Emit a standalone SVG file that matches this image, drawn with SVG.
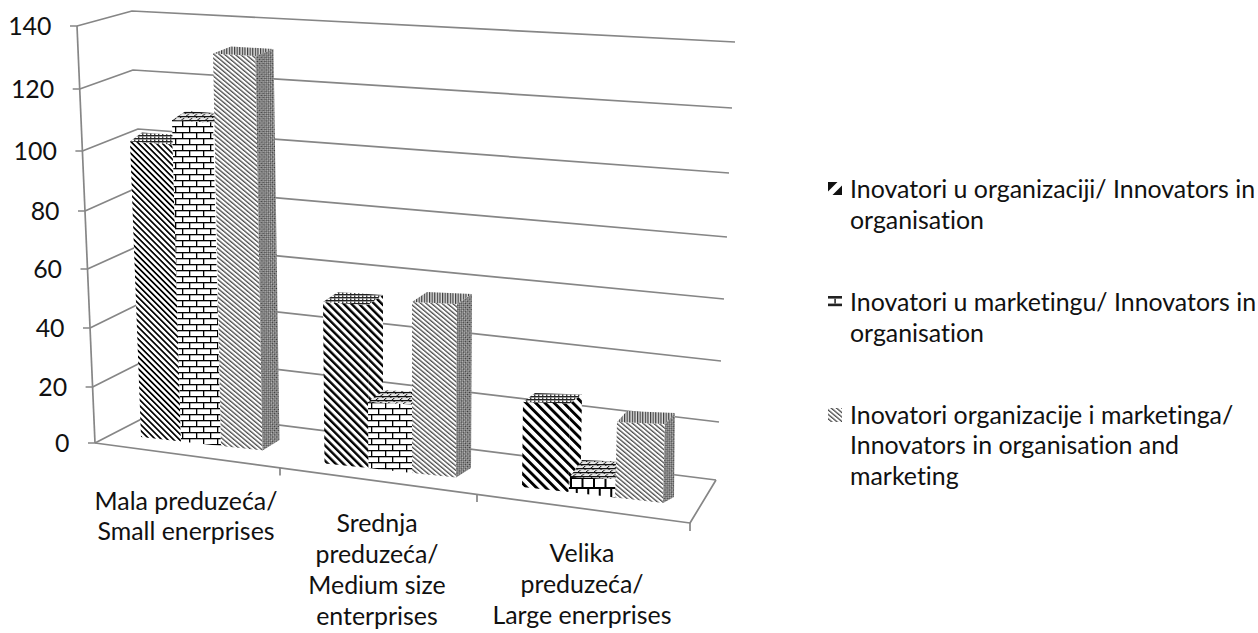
<svg xmlns="http://www.w3.org/2000/svg" width="1258" height="633" viewBox="0 0 1258 633">
<style>
.grid{stroke:#868686;stroke-width:1.7;fill:none;stroke-linejoin:round}
.txt{font-family:Lato,"Liberation Sans",sans-serif;font-size:24.9px;font-weight:400;fill:#111;font-variant-ligatures:none;font-feature-settings:"liga" 0}
.ax{text-anchor:end}
.cat{text-anchor:middle}
</style>
<defs>
<pattern id="s1a" patternUnits="userSpaceOnUse" width="4.2" height="10" patternTransform="rotate(-45)"><rect width="4.2" height="10" fill="#fff"/><rect width="1.7" height="10" fill="#000"/></pattern>
<pattern id="s1b" patternUnits="userSpaceOnUse" width="5.4" height="10" patternTransform="rotate(-45)"><rect width="5.4" height="10" fill="#fff"/><rect width="2.4" height="10" fill="#000"/></pattern>
<pattern id="s1c" patternUnits="userSpaceOnUse" width="6.6" height="10" patternTransform="rotate(-45)"><rect width="6.6" height="10" fill="#fff"/><rect width="2.9" height="10" fill="#000"/></pattern>
<pattern id="s1top" patternUnits="userSpaceOnUse" width="4" height="3"><rect width="4" height="3" fill="#fff"/><rect width="4" height="1.4" fill="#222"/><rect x="2" y="1.4" width="1.4" height="1.6" fill="#444"/></pattern>
<pattern id="s2" patternUnits="userSpaceOnUse" width="14" height="12"><rect width="14" height="12" fill="#fff"/><rect width="14" height="1.3" fill="#000"/><rect y="6" width="14" height="1.3" fill="#000"/><rect width="1.3" height="6" fill="#000"/><rect x="7" y="6" width="1.3" height="6" fill="#000"/></pattern>
<pattern id="s2big" patternUnits="userSpaceOnUse" width="23" height="20" x="570" y="477"><rect width="23" height="20" fill="#fff"/><rect width="23" height="2" fill="#000"/><rect y="10" width="23" height="2" fill="#000"/><rect x="0" width="2" height="10" fill="#000"/><rect x="11.5" width="2" height="10" fill="#000"/><rect x="5.75" y="10" width="2" height="10" fill="#000"/><rect x="17.25" y="10" width="2" height="10" fill="#000"/></pattern>
<pattern id="s2top" patternUnits="userSpaceOnUse" width="8" height="4" patternTransform="skewX(-50)"><rect width="8" height="4" fill="#e8e8e8"/><rect width="8" height="1.3" fill="#111"/><rect width="1.3" height="2" fill="#111"/><rect x="4" y="2" width="1.3" height="2" fill="#111"/></pattern>
<pattern id="s3" patternUnits="userSpaceOnUse" width="3.4" height="10" patternTransform="rotate(-50)"><rect width="3.4" height="10" fill="#fff"/><rect width="1.3" height="10" fill="#4a4a4a"/></pattern>
<pattern id="s3side" patternUnits="userSpaceOnUse" width="3" height="3" patternTransform="rotate(-45)"><rect width="3" height="3" fill="#bdbdbd"/><rect width="1.5" height="1.5" fill="#333"/><rect x="1.5" y="1.5" width="1.5" height="1.5" fill="#555"/></pattern>
<pattern id="s3top" patternUnits="userSpaceOnUse" width="2.6" height="10"><rect width="2.6" height="10" fill="#e0e0e0"/><rect width="1.2" height="10" fill="#3a3a3a"/></pattern>
</defs>
<rect width="1258" height="633" fill="#fff"/>

<g id="walls">
<polyline class="grid" points="77,26 132,11 735,42"/>
<polyline class="grid" points="79.7,89 133,70 732,108"/>
<polyline class="grid" points="82.4,151 138,129 729,173"/>
<polyline class="grid" points="85,211 141,186 727,237"/>
<polyline class="grid" points="87.5,269 145,243 724,299"/>
<polyline class="grid" points="90,328 151,298 721,361"/>
<polyline class="grid" points="92.6,387 156,355 719,422"/>
<polyline class="grid" points="95,443 159,410 716,480"/>
</g>

<g id="floor">
<polyline class="grid" points="95,443 690,523 716,480"/>
<path class="grid" d="M280,468 V475.5 M477,494.5 V502 M690,523 V531"/>
</g>

<g id="value-axis">
<line class="grid" x1="77" y1="26" x2="95" y2="443"/>
<path class="grid" d="M70,26 H77 M72.7,89 H79.7 M75.4,151 H82.4 M78,211 H85 M80.5,269 H87.5 M83,328 H90 M85.6,387 H92.6 M88,443 H95"/>
<text class="txt ax" x="51.5" y="34.5">140</text>
<text class="txt ax" x="54.2" y="97.5">120</text>
<text class="txt ax" x="56.9" y="159.5">100</text>
<text class="txt ax" x="59.5" y="219.5">80</text>
<text class="txt ax" x="62" y="277.5">60</text>
<text class="txt ax" x="64.5" y="336.5">40</text>
<text class="txt ax" x="67.1" y="395.5">20</text>
<text class="txt ax" x="69.5" y="451.5">0</text>
</g>

<g id="cluster-mala">
<g id="mala-s1">
<polygon points="130,141.5 172.5,144.5 181,441.5 141,437" fill="url(#s1a)"/>
<polygon points="130,141.5 172.5,144.5 184.5,135.5 142,132.5" fill="url(#s1top)"/>
</g>
<g id="mala-s2">
<polygon points="172,120 213,123 221,446 181,441.5" fill="url(#s2)"/>
<polygon points="172,120 213,123 227,114 186,111" fill="url(#s2top)"/>
</g>
<g id="mala-s3">
<polygon points="213,53.5 255.5,56 262.5,450.5 221,446" fill="url(#s3)"/>
<polygon points="213,53.5 255.5,56 273.5,49 231,46.5" fill="url(#s3top)"/>
<polygon points="255.5,56 273.5,49 279.5,440 262.5,450.5" fill="url(#s3side)"/>
</g>
</g>

<g id="cluster-srednja">
<g id="srednja-s1">
<polygon points="323,302 368,305 368.5,468 324.5,463.5" fill="url(#s1b)"/>
<polygon points="323,302 368,305 383,295 338,292" fill="url(#s1top)"/>
<polygon points="368,305 383,295 383,458 368.5,468" fill="url(#s1b)"/>
</g>
<g id="srednja-s2">
<polygon points="368,402 412,404.5 412,473 368.5,468" fill="url(#s2)"/>
<polygon points="368,402 412,404.5 427,392.5 383,390" fill="url(#s2top)"/>
</g>
<g id="srednja-s3">
<polygon points="412,302 457,304 456,477.5 412,473" fill="url(#s3)"/>
<polygon points="412,302 457,304 472,294 427,292" fill="url(#s3top)"/>
<polygon points="457,304 472,294 471,468 456,477.5" fill="url(#s3side)"/>
</g>
</g>

<g id="cluster-velika">
<g id="velika-s1">
<polygon points="523,402 570,403.5 568.5,492 522,487" fill="url(#s1c)"/>
<polygon points="523,402 570,403.5 582,394.5 535,393" fill="url(#s1top)"/>
<polygon points="570,403.5 582,394.5 580.5,483 568.5,492" fill="url(#s1c)"/>
</g>
<g id="velika-s2">
<polygon points="570,477 616,479 615,497.5 568.5,492" fill="url(#s2big)"/>
<polygon points="570,477 616,479 628,462 582,460" fill="url(#s2top)"/>
</g>
<g id="velika-s3">
<polygon points="617,422 665,424 663,503 615,497.5" fill="url(#s3)"/>
<polygon points="617,422 665,424 675,413 627,411" fill="url(#s3top)"/>
<polygon points="665,424 675,413 674,497 663,503" fill="url(#s3side)"/>
</g>
</g>

<g id="category-labels">
<text class="txt cat" x="186" y="510">Mala preduzeća/</text>
<text class="txt cat" x="186" y="540">Small enerprises</text>
<text class="txt cat" x="377" y="532">Srednja</text>
<text class="txt cat" x="377" y="563">preduzeća/</text>
<text class="txt cat" x="377" y="594">Medium size</text>
<text class="txt cat" x="377" y="625">enterprises</text>
<text class="txt cat" x="582" y="562">Velika</text>
<text class="txt cat" x="582" y="593">preduzeća/</text>
<text class="txt cat" x="582" y="624">Large enerprises</text>
</g>

<g id="legend">
<g id="legend-1">
<rect x="828" y="182" width="14" height="13" fill="#fff"/>
<polygon points="828,182 837.5,182 828,191.5" fill="#111"/>
<polygon points="842,185.5 842,195 832.5,195" fill="#111"/>
<text class="txt" x="850" y="198">Inovatori u organizaciji/ Innovators in</text>
<text class="txt" x="850" y="228.5">organisation</text>
</g>
<g id="legend-2">
<rect x="828" y="296" width="14" height="2.6" fill="#222"/>
<rect x="834.2" y="298.6" width="1.8" height="5" fill="#444"/>
<rect x="828" y="303.6" width="14" height="2.6" fill="#222"/>
<text class="txt" x="850" y="311">Inovatori u marketingu/ Innovators in</text>
<text class="txt" x="850" y="341.5">organisation</text>
</g>
<g id="legend-3">
<rect x="828" y="408" width="14" height="14" fill="url(#s3)"/>
<text class="txt" x="850" y="423.5">Inovatori organizacije i marketinga/</text>
<text class="txt" x="850" y="454">Innovators in organisation and</text>
<text class="txt" x="850" y="484.5">marketing</text>
</g>
</g>
</svg>
